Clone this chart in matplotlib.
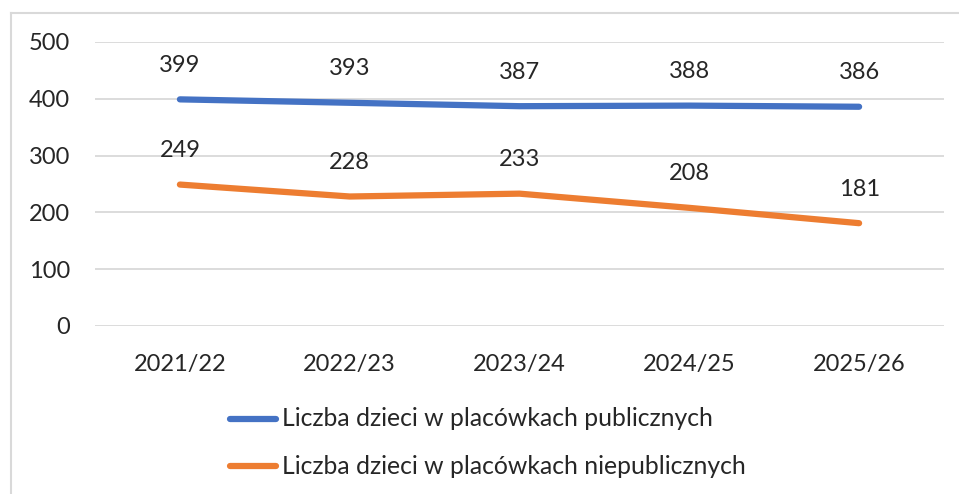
import matplotlib
matplotlib.use("Agg")
import matplotlib.pyplot as plt
from matplotlib.lines import Line2D

categories = ["2021/22", "2022/23", "2023/24", "2024/25", "2025/26"]
public = [399, 393, 387, 388, 386]
nonpublic = [249, 228, 233, 208, 181]
series_names = ["Liczba dzieci w placówkach publicznych",
                "Liczba dzieci w placówkach niepublicznych"]
yticks = [0, 100, 200, 300, 400, 500]

W, H = 959, 494
plt.rcParams['font.family'] = ['Lato', 'DejaVu Sans']
fig = plt.figure(figsize=(W / 100, H / 100), dpi=100)

def fx(px): return px / W
def fy(py): return 1 - py / H

FS = 17
TXT = '#262626'

# plot area: x 95..944, y 42 (500) .. 326 (0)
ax = fig.add_axes([fx(95), fy(326), fx(944) - fx(95), fy(42) - fy(326)])
x = list(range(len(categories)))
blue = "#4472C4"
orange = "#ED7D31"
ax.plot(x, public, color=blue, lw=4.5, solid_capstyle='round', solid_joinstyle='round')
ax.plot(x, nonpublic, color=orange, lw=4.5, solid_capstyle='round', solid_joinstyle='round')
ax.set_xlim(-0.5, len(categories) - 0.5)
ax.set_ylim(0, 500)
ax.set_yticks(yticks)
ax.set_yticklabels([str(v) for v in yticks])
ax.set_xticks(x)
ax.set_xticklabels(categories)
ax.grid(axis='y', color='#D9D9D9', lw=1.3)
ax.set_axisbelow(True)
for s in ax.spines.values():
    s.set_visible(False)
ax.tick_params(axis='both', length=0, labelsize=FS, colors=TXT)
ax.tick_params(axis='y', pad=18)
ax.tick_params(axis='x', pad=20)

for series in (public, nonpublic):
    for xi, v in zip(x, series):
        ax.annotate(str(v), (xi, v), xytext=(0, 24.5), textcoords='offset points',
                    ha='center', va='center', fontsize=FS, color=TXT)

# legend
for (py, color, name) in [(419, blue, series_names[0]), (466, orange, series_names[1])]:
    fig.add_artist(Line2D([fx(230), fx(276)], [fy(py), fy(py)], color=color, lw=4.5,
                          solid_capstyle='round'))
    fig.text(fx(282), fy(py), name, ha='left', va='center', fontsize=17.8, color=TXT)

# outer border
fig.add_artist(Line2D([fx(11), fx(11)], [fy(13), fy(H + 20)], color='#D9D9D9', lw=1.5))
fig.add_artist(Line2D([fx(11), fx(W + 20)], [fy(13), fy(13)], color='#D9D9D9', lw=1.5))

fig.savefig("out.png", dpi=100)
